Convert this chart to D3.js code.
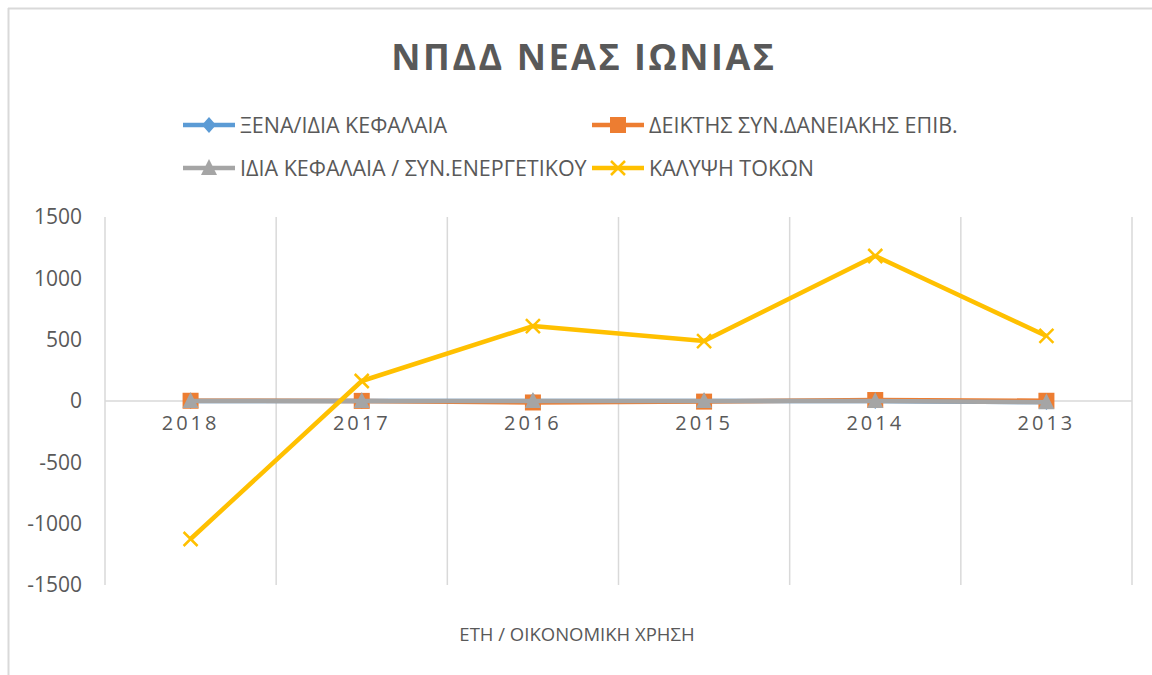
<!DOCTYPE html>
<html><head><meta charset="utf-8">
<script src="https://cdn.jsdelivr.net/npm/d3@7"></script>
<style>body{margin:0;background:#fff}svg{display:block}</style>
</head><body><svg id="c" width="1152" height="675"></svg>
<script>
const categories = ["2018","2017","2016","2015","2014","2013"];
const seriesNames = ["ΞΕΝΑ/ΙΔΙΑ ΚΕΦΑΛΑΙΑ","ΔΕΙΚΤΗΣ ΣΥΝ.ΔΑΝΕΙΑΚΗΣ ΕΠΙΒ.","ΙΔΙΑ ΚΕΦΑΛΑΙΑ / ΣΥΝ.ΕΝΕΡΓΕΤΙΚΟΥ","ΚΑΛΥΨΗ ΤΟΚΩΝ"];
const xenaIdia = [0.6, 0.5, 0.6, 0.5, 0.6, -9];
const deiktisDan = [2, 1, -12, -5, 8, 2];
const idiaSyn = [0.4, 0.5, 0.4, 0.5, 0.5, -10];
const kalypsiTokon = [-1125, 163, 611, 489, 1182, 530];
const yTicks = [-1500,-1000,-500,0,500,1000,1500];
const title = "ΝΠΔΔ ΝΕΑΣ ΙΩΝΙΑΣ";
const xTitle = "ΕΤΗ / ΟΙΚΟΝΟΜΙΚΗ ΧΡΗΣΗ";

const colors = ["#5b9bd5","#ed7d31","#a5a5a5","#ffc000"];
const series = [xenaIdia, deiktisDan, idiaSyn, kalypsiTokon];
const shapes = ["diamond","square","triangle","x"];
const svg = d3.select("#c");
const txt = "#595959", grid = "#d9d9d9";
const font = "'Open Sans', sans-serif";

// chart frame
svg.append("line").attr("x1",8).attr("x2",1152).attr("y1",8.5).attr("y2",8.5).attr("stroke","#d9d9d9").attr("stroke-width",2);
svg.append("line").attr("x1",8.5).attr("x2",8.5).attr("y1",8).attr("y2",675).attr("stroke","#d9d9d9").attr("stroke-width",2);

const x = d3.scaleBand().domain(categories).range([105,1132]).padding(0);
const y = d3.scaleLinear().domain([-1500,1500]).range([585,217]);

// vertical gridlines
const bounds = categories.map(c=>x(c)).concat([x.range()[1]]);
svg.append("g").selectAll("line").data(bounds).join("line")
  .attr("x1",d=>d).attr("x2",d=>d).attr("y1",y(1500)).attr("y2",y(-1500))
  .attr("stroke",grid).attr("stroke-width",1.5);
// zero line
svg.append("line").attr("x1",105).attr("x2",1132).attr("y1",y(0)).attr("y2",y(0)).attr("stroke",grid).attr("stroke-width",1.5);

// y axis labels
const yAxis = d3.axisLeft(y).tickValues(yTicks).tickSize(0).tickPadding(0).tickFormat(d=>String(d));
const gy = svg.append("g").attr("transform","translate(82,0)").call(yAxis);
gy.select(".domain").remove();
gy.selectAll("text").attr("font-family",font).attr("font-size",21).attr("fill",txt);

// x axis labels
const xAxis = d3.axisBottom(x).tickSize(0).tickPadding(0);
const gx = svg.append("g").attr("transform",`translate(0,${y(0)+23})`).call(xAxis);
gx.select(".domain").remove();
gx.selectAll("text").attr("font-family",font).attr("font-size",20).attr("fill",txt)
  .attr("letter-spacing","3px").attr("dy","0.32em");

function marker(g, shape, color, cx, cy){
  if(shape==="diamond"){
    g.append("path").attr("d",`M${cx},${cy-8}L${cx+7},${cy}L${cx},${cy+8}L${cx-7},${cy}Z`).attr("fill",color);
  } else if(shape==="square"){
    g.append("rect").attr("x",cx-8).attr("y",cy-8).attr("width",16).attr("height",16).attr("fill",color);
  } else if(shape==="triangle"){
    g.append("path").attr("d",`M${cx},${cy-9}L${cx+8},${cy+7}L${cx-8},${cy+7}Z`).attr("fill",color);
  } else {
    g.append("path").attr("d",`M${cx-7},${cy-7}L${cx+7},${cy+7}M${cx+7},${cy-7}L${cx-7},${cy+7}`).attr("stroke",color).attr("stroke-width",2.5).attr("fill","none");
  }
}

const line = d3.line().x((d,i)=>x(categories[i])+x.bandwidth()/2).y(d=>y(d));
series.forEach((vals,si)=>{
  const g = svg.append("g");
  g.append("path").datum(vals).attr("d",line).attr("fill","none")
    .attr("stroke",colors[si]).attr("stroke-width",4.5).attr("stroke-linejoin","round");
  vals.forEach((v,i)=>marker(g,shapes[si],colors[si],x(categories[i])+x.bandwidth()/2,y(v)));
});

// title
svg.append("text").attr("x",584).attr("y",70).attr("text-anchor","middle")
  .attr("font-family",font).attr("font-weight","bold").attr("font-size",36)
  .attr("letter-spacing","2.5px").attr("fill",txt).text(title);

// legend
const legPos = [[183,125],[592,125],[183,168],[592,168]];
seriesNames.forEach((n,i)=>{
  const [lx,ly] = legPos[i];
  const g = svg.append("g");
  g.append("line").attr("x1",lx).attr("x2",lx+52).attr("y1",ly).attr("y2",ly).attr("stroke",colors[i]).attr("stroke-width",4.5);
  marker(g,shapes[i],colors[i],lx+26,ly);
  g.append("text").attr("x",lx+57).attr("y",ly).attr("dy","0.35em")
    .attr("font-family",font).attr("font-size",21.5).attr("fill",txt).text(n);
});

// x axis title
svg.append("text").attr("x",577).attr("y",635).attr("dy","0.35em").attr("text-anchor","middle")
  .attr("font-family",font).attr("font-size",18.5).attr("fill",txt).text(xTitle);
</script></body></html>
